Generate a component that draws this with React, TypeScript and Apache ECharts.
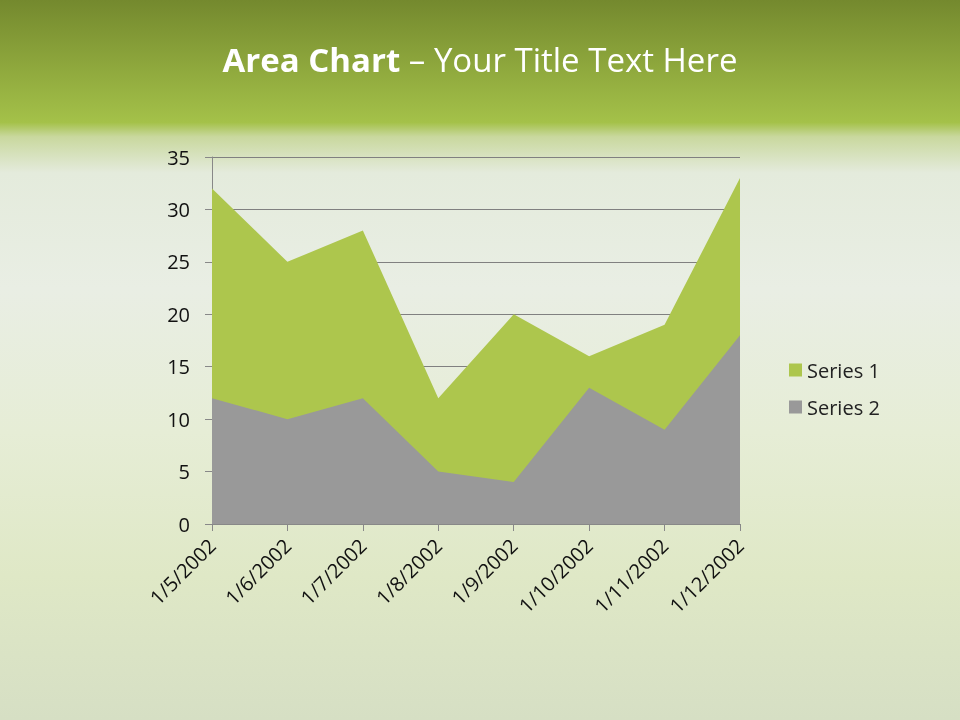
import React, { useEffect, useRef } from "react";
import * as echarts from "echarts";

const categories = ["1/5/2002", "1/6/2002", "1/7/2002", "1/8/2002", "1/9/2002", "1/10/2002", "1/11/2002", "1/12/2002"];
const series1 = [32, 25, 28, 12, 20, 16, 19, 33];
const series2 = [12, 10, 12, 5, 4, 13, 9, 18];
const seriesNames = ["Series 1", "Series 2"];
const FONT = "'Open Sans', 'Noto Sans', sans-serif";

export default function App() {
  const ref = useRef<HTMLDivElement>(null);
  useEffect(() => {
    document.body.style.margin = "0";
    const chart = echarts.init(ref.current!, null, { renderer: "svg" });
    chart.setOption({
      animation: false,
      graphic: [
        {
          type: "rect",
          z: -10,
          shape: { x: 0, y: 0, width: 960, height: 720 },
          style: {
            fill: new echarts.graphic.LinearGradient(0, 0, 0, 1, [
              { offset: 0, color: "#74892e" },
              { offset: 0.17, color: "#a4c149" },
              { offset: 0.19, color: "#c9d89e" },
              { offset: 0.24, color: "#e4ebdc" },
              { offset: 0.4, color: "#e9eee4" },
              { offset: 0.6, color: "#e6edd6" },
              { offset: 0.8, color: "#dfe8c6" },
              { offset: 1, color: "#d6dfc4" },
            ]),
          },
          silent: true,
        },
        {
          type: "text",
          left: "center",
          top: 43,
          style: {
            text: "{b|Area Chart}{n| – Your Title Text Here}",
            rich: {
              b: { fontFamily: FONT, fontSize: 33, fontWeight: "bold", fill: "#ffffff" },
              n: { fontFamily: FONT, fontSize: 33, fill: "#ffffff" },
            },
          },
        },
      ],
      color: ["#adc64d", "#999999"],
      legend: {
        orient: "vertical",
        left: 784,
        top: 355,
        itemWidth: 13,
        itemHeight: 13,
        itemGap: 17,
        icon: "rect",
        data: seriesNames,
        textStyle: { fontFamily: FONT, fontSize: 20, color: "#222222" },
      },
      grid: { left: 212, right: 220, top: 157, bottom: 196 },
      xAxis: {
        type: "category",
        data: categories,
        boundaryGap: false,
        axisLine: { lineStyle: { color: "#888888", width: 1 } },
        axisTick: { show: true, length: 7, lineStyle: { color: "#888888" } },
        axisLabel: {
          rotate: 45,
          fontFamily: FONT,
          fontSize: 20,
          color: "#111111",
          margin: 18,
          interval: 0,
        },
      },
      yAxis: {
        type: "value",
        min: 0,
        max: 35,
        interval: 5,
        axisLine: { show: true, lineStyle: { color: "#888888" } },
        axisTick: { show: true, length: 7, lineStyle: { color: "#888888" } },
        splitLine: { lineStyle: { color: "#808080", width: 1 } },
        axisLabel: { fontFamily: FONT, fontSize: 20, color: "#111111", margin: 22 },
      },
      series: [
        {
          name: seriesNames[0],
          type: "line",
          data: series1,
          symbol: "none",
          lineStyle: { width: 0 },
          areaStyle: { color: "#adc64d", opacity: 1 },
          z: 2,
        },
        {
          name: seriesNames[1],
          type: "line",
          data: series2,
          symbol: "none",
          lineStyle: { width: 0 },
          areaStyle: { color: "#999999", opacity: 1 },
          z: 3,
        },
      ],
    });
    return () => chart.dispose();
  }, []);
  return <div ref={ref} style={{ position: "fixed", left: 0, top: 0, width: 960, height: 720 }} />;
}
